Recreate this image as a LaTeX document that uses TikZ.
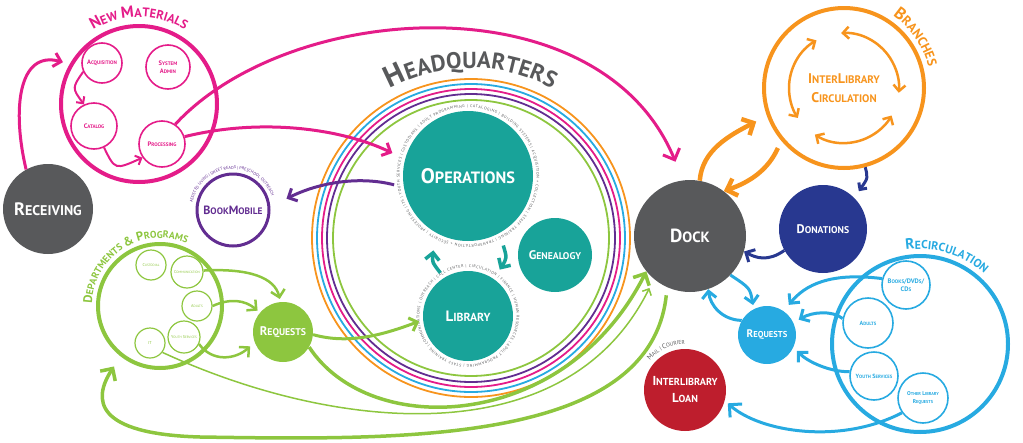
\documentclass[tikz,border=0pt]{standalone}
\usepackage{fontspec}
\setmainfont{PT Sans}
\usepackage{xcolor}
\usepackage{tikz}
\usetikzlibrary{arrows.meta,decorations.text}

\definecolor{nmpink}{RGB}{228,28,137}
\definecolor{hqgray}{RGB}{88,89,91}
\definecolor{dpgreen}{RGB}{141,198,63}
\definecolor{opteal}{RGB}{24,163,153}
\definecolor{bmpurple}{RGB}{98,45,145}
\definecolor{brorange}{RGB}{247,148,29}
\definecolor{rcblue}{RGB}{39,170,225}
\definecolor{dnblue}{RGB}{40,56,144}
\definecolor{ilred}{RGB}{190,30,45}

\makeatletter
\newcommand\sml[1]{{\@tempdima=\f@size pt\@tempdima=0.78\@tempdima%
  \edef\sml@sz{\strip@pt\@tempdima}\fontsize{\sml@sz}{\sml@sz}\selectfont #1}}
\makeatother
\newcommand\fs[2]{\fontsize{#1}{#2}\selectfont}

\begin{document}
\begin{tikzpicture}[x=1pt, y=-1pt,
  hub/.style={circle, inner sep=0pt, text=white, align=center},
  grp/.style={circle, draw, line width=4pt, inner sep=0pt},
  sub/.style={circle, draw, line width=1.6pt, inner sep=0pt, align=center},
  bighd/.style={-{Straight Barb[length=9pt,width=18pt]}},
  midhd/.style={-{Straight Barb[length=7pt,width=14pt]}},
  smlhd/.style={-{Straight Barb[length=5pt,width=10pt]}},
  cyc/.style={{Straight Barb[length=6pt,width=12pt]}-{Straight Barb[length=6pt,width=12pt]}},
  arctext/.style={decorate, decoration={text along path, text align=center, text format delimiters={[}{]}, text={#1}}},
  ringtext/.style={decorate, decoration={text along path, text align=fit to path, text format delimiters={[}{]}, text={#1}}}]
\useasboundingbox (0,0) rectangle (1023,442);

\node[hub, fill=hqgray, minimum size=90pt, font=\bfseries\fs{18}{20}] (recv) at (48,209) {R\sml{ECEIVING}};

\node[grp, draw=nmpink, minimum size=156pt] (newmat) at (139,104) {};
\node[sub, draw=nmpink, text=nmpink, minimum size=40pt, font=\bfseries\fs{6.5}{7}] (acq) at (102,63) {A\sml{CQUISITION}};
\node[sub, draw=nmpink, text=nmpink, minimum size=44pt, font=\bfseries\fs{6.5}{8}] (sysadm) at (168,67) {S\sml{YSTEM}\\A\sml{DMIN}};
\node[sub, draw=nmpink, text=nmpink, minimum size=46pt, font=\bfseries\fs{6.5}{7}] (catalog) at (94,126) {C\sml{ATALOG}};
\node[sub, draw=nmpink, text=nmpink, minimum size=46pt, font=\bfseries\fs{6.5}{7}] (proc) at (162,144) {P\sml{ROCESSING}};

\node[grp, draw=dpgreen, minimum size=124pt] (dept) at (160,306) {};
\node[sub, draw=dpgreen, text=dpgreen, line width=1.2pt, minimum size=30pt, font=\fs{4.2}{5}] (cust) at (151,265) {C\sml{USTODIAL}};
\node[sub, draw=dpgreen, text=dpgreen, line width=1.2pt, minimum size=32pt, font=\fs{4.2}{5}] (comm) at (187,272) {C\sml{OMMUNICATION}};
\node[sub, draw=dpgreen, text=dpgreen, line width=1.2pt, minimum size=30pt, font=\fs{4.2}{5}] (adultsd) at (197,306) {A\sml{DULTS}};
\node[sub, draw=dpgreen, text=dpgreen, line width=1.2pt, minimum size=32pt, font=\fs{4.2}{5}] (youthd) at (184,337) {Y\sml{OUTH} S\sml{ERVICES}};
\node[sub, draw=dpgreen, text=dpgreen, line width=1.2pt, minimum size=30pt, font=\fs{4.2}{5}] (itd) at (150,343) {IT};
\node[hub, fill=dpgreen, minimum size=60pt, font=\bfseries\fs{12.5}{14}] (reqg) at (283,332) {R\sml{EQUESTS}};

\node[circle, draw=bmpurple, line width=3pt, minimum size=72pt, inner sep=0pt, text=bmpurple, font=\bfseries\fs{12}{14}] (bookm) at (233,210) {B\sml{OOK}M\sml{OBILE}};

\coordinate (hq) at (471,238);
\draw[brorange, line width=1.8pt] (hq) circle[radius=159];
\draw[rcblue, line width=1.8pt] (hq) circle[radius=154];
\draw[nmpink, line width=1.8pt] (hq) circle[radius=149];
\draw[bmpurple, line width=1.8pt] (hq) circle[radius=144];
\draw[dpgreen, line width=1.8pt] (hq) circle[radius=138];

\node[hub, fill=opteal, minimum size=130pt, font=\bfseries\fs{21}{24}] (ops) at (468,176) {O\sml{PERATIONS}};
\node[hub, fill=opteal, minimum size=90pt, font=\bfseries\fs{15}{17}] (lib) at (468,316) {L\sml{IBRARY}};
\node[hub, fill=opteal, minimum size=74pt, font=\bfseries\fs{12.5}{14}] (gen) at (555,255) {G\sml{ENEALOGY}};

\node[hub, fill=hqgray, minimum size=112pt, font=\bfseries\fs{19}{21}] (dock) at (690,236) {D\sml{OCK}};

\node[grp, draw=brorange, minimum size=160pt] (branches) at (844,88) {};
\node[text=brorange, font=\bfseries\fs{14}{19}, align=center] (ilc) at (branches.center) {I\sml{NTER}L\sml{IBRARY}\\C\sml{IRCULATION}};
\node[hub, fill=dnblue, minimum size=88pt, font=\bfseries\fs{12.5}{14}] (don) at (823,229) {D\sml{ONATIONS}};

\node[grp, draw=rcblue, minimum size=176pt] (recirc) at (920,344) {};
\node[sub, draw=rcblue, text=rcblue, minimum size=48pt, font=\bfseries\fs{6.5}{8}] (books) at (906,285) {B\sml{OOKS}/DVD\sml{S}/\\CD\sml{S}};
\node[sub, draw=rcblue, text=rcblue, minimum size=50pt, font=\bfseries\fs{6}{7}] (adultsr) at (868,323) {A\sml{DULTS}};
\node[sub, draw=rcblue, text=rcblue, minimum size=48pt, font=\bfseries\fs{6}{7}] (youthr) at (874,376) {Y\sml{OUTH} S\sml{ERVICES}};
\node[sub, draw=rcblue, text=rcblue, minimum size=50pt, font=\bfseries\fs{5.5}{8}] (other) at (923,398) {O\sml{THER} L\sml{IBRARY}\\R\sml{EQUESTS}};
\node[hub, fill=rcblue, minimum size=58pt, font=\bfseries\fs{11}{12}] (reqb) at (767,335) {R\sml{EQUESTS}};
\node[hub, fill=ilred, minimum size=82pt, font=\bfseries\fs{13}{17}] (ill) at (685,390) {I\sml{NTERLIBRARY}\\L\sml{OAN}};

\path[arctext={[\color{hqgray}\bfseries\fs{30}{30}]H[\color{hqgray}\bfseries\fs{23}{23}]EADQUARTERS}] (hq) ++(-125:170) arc[start angle=-125, end angle=-55, radius=170];
\path[arctext={[\color{nmpink}\bfseries\fs{16}{16}]N[\color{nmpink}\bfseries\fs{12.5}{12.5}]EW [\color{nmpink}\bfseries\fs{16}{16}]M[\color{nmpink}\bfseries\fs{12.5}{12.5}]ATERIALS}] (newmat.center) ++(-135:87) arc[start angle=-135, end angle=-45, radius=87];
\path[arctext={[\color{brorange}\bfseries\fs{17}{17}]B[\color{brorange}\bfseries\fs{13}{13}]RANCHES}] (branches.center) ++(-80:87) arc[start angle=-80, end angle=10, radius=87];
\path[arctext={[\color{rcblue}\bfseries\fs{15}{15}]R[\color{rcblue}\bfseries\fs{11.7}{11.7}]ECIRCULATION}] (recirc.center) ++(-118:95) arc[start angle=-118, end angle=-28, radius=95];
\path[arctext={[\color{dpgreen}\bfseries\fs{12.5}{12.5}]D[\color{dpgreen}\bfseries\fs{9.75}{9.75}]EPARTMENTS [\color{dpgreen}\bfseries\fs{12.5}{12.5}]{\&} P[\color{dpgreen}\bfseries\fs{9.75}{9.75}]ROGRAMS}] (dept.center) ++(-190:68) arc[start angle=-190, end angle=-55, radius=68];
\path[arctext={[\color{hqgray}\fs{7}{7}]M[\color{hqgray}\fs{5.5}{5.5}]AIL | [\color{hqgray}\fs{7}{7}]C[\color{hqgray}\fs{5.5}{5.5}]OURIER}] (ill.center) ++(-160:46) arc[start angle=-160, end angle=-70, radius=46];
\path[arctext={[\color{bmpurple}\fs{4.2}{4.2}]ASSISTED LIVING | SWEET READS | PRESCHOOL OUTREACH}] (bookm.center) ++(-185:41) arc[start angle=-185, end angle=-5, radius=41];
\path[ringtext={[\color{hqgray}\fs{3.9}{3.9}]PROCESSING | ITS | YOUTH SERVICES | CUSTODIANS | ADULT PROGRAMMING | CATALOGING | BUILDING SYSTEMS | ACQUISITION + COLLECTION | STAFF TRAINING | TRANSPORTATION + SECURITY |}] (ops.center) ++(-232:68.5) arc[start angle=-232, end angle=126, radius=68.5];
\path[ringtext={[\color{hqgray}\fs{3.9}{3.9}]COMMUNICATIONS | OUTREACH | CALL CENTER | CIRCULATION | FINANCE | HUMAN RESOURCES | ADULT PROGRAMMING | STAFF TRAINING |}] (lib.center) ++(-215:48.5) arc[start angle=-215, end angle=143, radius=48.5];

\draw[nmpink, line width=3pt, midhd, shorten >=7pt] (recv.119) .. controls (12,110) and (18,50) .. (newmat.150);
\draw[nmpink, line width=2pt, smlhd] (acq.205) .. controls (72,88) .. (catalog.115);
\draw[nmpink, line width=2pt, smlhd] (catalog.295) .. controls (115,170) .. (proc.215);
\draw[nmpink, line width=3pt, bighd, shorten >=20pt] (proc.56) .. controls (290,0) and (600,-20) .. (dock.97);
\draw[nmpink, line width=3pt, midhd, shorten >=14pt] (proc.18) .. controls (260,118) and (340,128) .. (ops.165);
\draw[bmpurple, line width=3pt, midhd, shorten <=10pt, shorten >=18pt] (ops.190) .. controls (360,176) and (320,182) .. (bookm.5);

\draw[dpgreen, line width=2.5pt, midhd, shorten >=3pt] (comm.5) .. controls (250,268) and (275,278) .. (reqg.95);
\draw[dpgreen, line width=2.5pt, midhd, shorten >=3pt] (adultsd.0) .. controls (230,298) and (245,300) .. (reqg.140);
\draw[dpgreen, line width=2.5pt, midhd, shorten >=6pt] (youthd.335) .. controls (212,362) and (235,360) .. (reqg.200);
\draw[dpgreen, line width=3pt, midhd, shorten >=4pt] (reqg.355) .. controls (350,345) and (385,334) .. (lib.185);
\draw[dpgreen, line width=3.5pt, bighd] (reqg.330) .. controls (370,440) and (565,432) .. (dock.219);
\draw[dpgreen, line width=1.5pt, smlhd, shorten >=10pt] (itd.323) .. controls (330,430) and (565,458) .. (dock.230);
\draw[dpgreen, line width=3.5pt, bighd, shorten <=8pt, shorten >=12pt] (dock.246) .. controls (650,445) and (400,440) .. (200,437) .. controls (95,434) and (92,400) .. (dept.232);

\draw[opteal, line width=3.5pt, midhd, shorten <=6pt, shorten >=18pt] (lib.122) .. controls (432,262) .. (ops.240);
\draw[opteal, line width=3.5pt, midhd, shorten <=13pt, shorten >=11pt] (ops.299) .. controls (507,258) .. (lib.55);

\draw[brorange, line width=4.5pt, bighd, shorten >=12pt] (dock.80) .. controls (702,150) and (730,135) .. (branches.200);
\draw[brorange, line width=4.5pt, bighd, shorten <=8pt] (branches.220) .. controls (768,170) and (750,182) .. (dock.53);
\draw[brorange, line width=2.5pt, cyc] (branches.center) ++(-120:55) arc[start angle=-120, end angle=-213, radius=55];
\draw[brorange, line width=2.5pt, cyc] (branches.center) ++(-93:55) arc[start angle=-93, end angle=5, radius=55];
\draw[brorange, line width=2.5pt, cyc] (branches.center) ++(-238:55) arc[start angle=-238, end angle=-330, radius=55];

\draw[dnblue, line width=3pt, smlhd, shorten >=8pt] (branches.285) .. controls (868,178) .. (don.45);
\draw[dnblue, line width=3pt, midhd] (don.209) .. controls (768,262) and (756,258) .. (dock.344);

\draw[rcblue, line width=3pt, midhd, shorten >=8pt] (books.165) .. controls (830,272) and (805,285) .. (reqb.55);
\draw[rcblue, line width=3pt, midhd, shorten >=6pt] (adultsr.170) .. controls (832,310) and (812,312) .. (reqb.25);
\draw[rcblue, line width=3pt, midhd, shorten >=5pt] (youthr.170) .. controls (830,372) and (808,362) .. (reqb.335);
\draw[rcblue, line width=3pt, bighd, shorten >=4pt] (other.215) .. controls (840,445) and (760,432) .. (ill.345);
\draw[rcblue, line width=3pt, midhd, shorten >=4pt] (dock.316) .. controls (750,288) .. (reqb.117);
\draw[rcblue, line width=3pt, midhd] (reqb.150) .. controls (722,320) and (710,305) .. (dock.289);
\end{tikzpicture}
\end{document}
